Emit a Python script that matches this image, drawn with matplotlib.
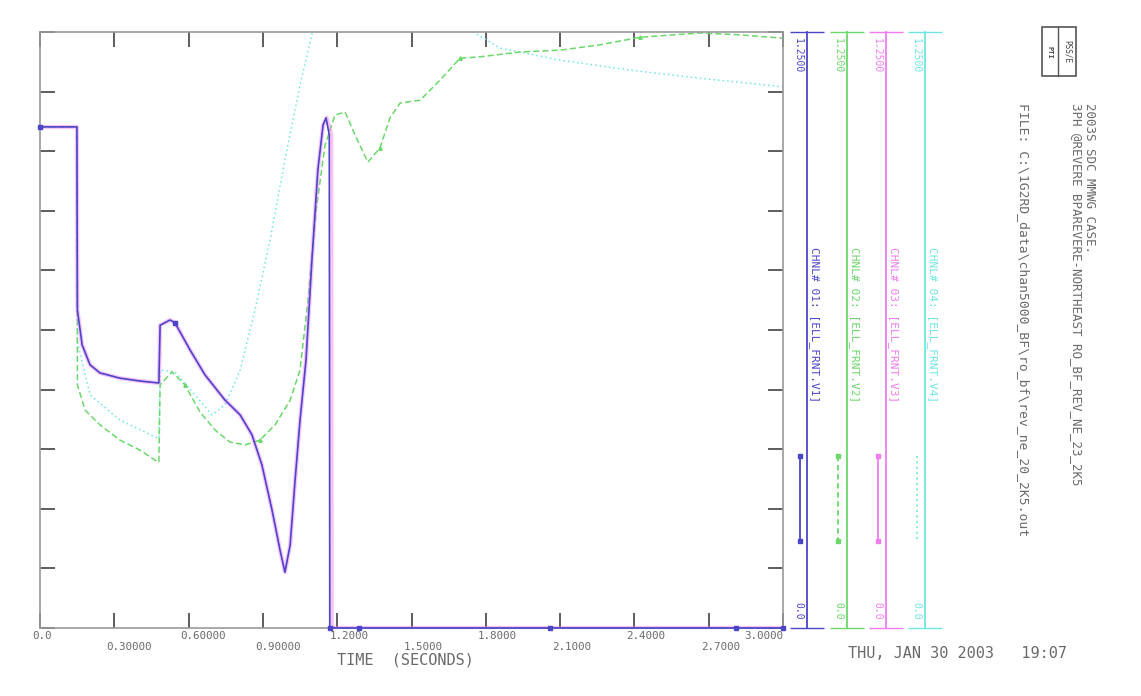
import numpy as np
import matplotlib
matplotlib.use("Agg")
import matplotlib.pyplot as plt
import matplotlib.transforms as mtransforms
from matplotlib.patches import Rectangle

plt.rcParams['font.family'] = ['DejaVu Sans Mono']

# channel 1 (blue) and channel 3 (magenta) - bus voltage, trips at ~1.17 s
t_blue = [0.0, 0.149, 0.151, 0.170, 0.202, 0.242, 0.323, 0.404, 0.476, 0.480,
          0.485, 0.525, 0.545, 0.606, 0.666, 0.747, 0.808, 0.856, 0.896, 0.937,
          0.969, 0.989, 1.010, 1.030, 1.050, 1.074, 1.098, 1.122, 1.143, 1.155,
          1.168, 1.170, 1.290, 2.060, 2.810, 3.0]
v_blue = [1.051, 1.051, 0.667, 0.594, 0.552, 0.535, 0.524, 0.518, 0.514, 0.514,
          0.635, 0.646, 0.640, 0.583, 0.531, 0.478, 0.447, 0.405, 0.342, 0.247,
          0.164, 0.117, 0.174, 0.310, 0.436, 0.562, 0.772, 0.961, 1.055, 1.070,
          1.034, 0.0, 0.0, 0.0, 0.0, 0.0]
t_mag = [0.0, 0.149, 0.151, 0.170, 0.202, 0.242, 0.323, 0.404, 0.476, 0.480,
         0.485, 0.525, 0.545, 0.606, 0.666, 0.747, 0.808, 0.856, 0.896, 0.937,
         0.969, 0.989, 1.010, 1.030, 1.050, 1.074, 1.098, 1.122, 1.143, 1.158,
         1.176, 1.178, 3.0]
v_mag = [1.051, 1.051, 0.667, 0.594, 0.552, 0.535, 0.524, 0.518, 0.514, 0.514,
         0.635, 0.646, 0.640, 0.583, 0.531, 0.478, 0.447, 0.405, 0.342, 0.247,
         0.164, 0.117, 0.174, 0.310, 0.436, 0.562, 0.772, 0.961, 1.055, 1.070,
         1.034, 0.0, 0.0]

# channel 2 (green)
t_green = [0.0, 0.149, 0.151, 0.182, 0.242, 0.323, 0.404, 0.476, 0.480, 0.485,
           0.533, 0.585, 0.646, 0.707, 0.767, 0.828, 0.888, 0.949, 1.010, 1.050,
           1.082, 1.115, 1.151, 1.191, 1.232, 1.272, 1.324, 1.373, 1.413, 1.454,
           1.535, 1.615, 1.696, 1.777, 1.938, 2.100, 2.261, 2.423, 2.665, 2.827, 3.0]
v_green = [1.051, 1.051, 0.510, 0.457, 0.426, 0.394, 0.373, 0.348, 0.348, 0.510,
           0.537, 0.510, 0.453, 0.415, 0.390, 0.384, 0.394, 0.426, 0.478, 0.541,
           0.688, 0.877, 1.013, 1.076, 1.082, 1.034, 0.977, 1.007, 1.070, 1.101,
           1.107, 1.149, 1.195, 1.198, 1.208, 1.212, 1.223, 1.239, 1.248, 1.244, 1.237]

# channel 4 (cyan)
t_cyan = [0.0, 0.149, 0.151, 0.202, 0.323, 0.476, 0.480, 0.485, 0.545, 0.626,
          0.694, 0.747, 0.808, 0.868, 0.929, 0.989, 1.050, 1.106, 1.171, 1.292,
          1.535, 1.736, 1.858, 2.100, 2.383, 2.665, 3.0]
v_cyan = [1.051, 1.051, 0.600, 0.489, 0.436, 0.398, 0.398, 0.541, 0.537, 0.489,
          0.447, 0.468, 0.541, 0.667, 0.814, 0.982, 1.139, 1.264, 1.306, 1.300,
          1.300, 1.254, 1.216, 1.191, 1.170, 1.153, 1.135]

x_ticks = [0.0, 0.3, 0.6, 0.9, 1.2, 1.5, 1.8, 2.1, 2.4, 2.7, 3.0]
x_tick_labels = ['0.0', '0.30000', '0.60000', '0.90000', '1.2000', '1.5000',
                 '1.8000', '2.1000', '2.4000', '2.7000', '3.0000']

channels = ['CHNL# 01: [ELL_FRNT.V1]', 'CHNL# 02: [ELL_FRNT.V2]',
            'CHNL# 03: [ELL_FRNT.V3]', 'CHNL# 04: [ELL_FRNT.V4]']
ch_colors = ['#4b45c8', '#6ad86a', '#f07cf0', '#6ee6e2']
ch_max = ['1.2500', '1.2500', '1.2500', '1.2500']
ch_min = ['0.0', '0.0', '0.0', '0.0']
ymin, ymax = 0.0, 1.25

W, H = 1141, 696
fig = plt.figure(figsize=(W / 100, H / 100), dpi=100)
fig.patch.set_facecolor('white')

def fx(px):
    return px / W

def fy(py):
    return 1 - py / H

grey = '#6a6a6a'
ax = fig.add_axes([fx(40), fy(628), fx(783) - fx(40), fy(32) - fy(628)])
ax.set_xlim(0, 3.0)
ax.set_ylim(ymin, ymax)
for s in ax.spines.values():
    s.set_color('#9a9a9a')
    s.set_linewidth(1.2)

ax.plot(t_mag, v_mag, color=ch_colors[2], lw=3.0, alpha=0.45, zorder=3,
        marker='s', ms=3, markevery=[0, 12, 31])
ax.plot(t_cyan, v_cyan, color=ch_colors[3], lw=1.1, ls=(0, (1, 2)), zorder=2)
ax.plot(t_green, v_green, color=ch_colors[1], lw=1.1, ls=(0, (4, 2)), zorder=2,
        marker='^', ms=2.5, markevery=[11, 16, 27, 32, 37])
ax.plot(t_blue, v_blue, color=ch_colors[0], lw=1.2, zorder=4, clip_on=False,
        marker='s', ms=3.5, markevery=[0, 12, 31, 32, 33, 34, 35])

ax.set_xticks(x_ticks)
ax.set_xticklabels([('\n' if i % 2 else '') + l for i, l in enumerate(x_tick_labels)])
ax.set_yticks(np.linspace(ymin, ymax, 11))
ax.set_yticklabels([])
ax.tick_params(axis='both', which='both', direction='in', length=11, width=1.3,
               color='#505050', top=True, right=True, labelsize=7.8,
               labelcolor=grey, pad=2)
shift = mtransforms.ScaledTranslation(-8 / 100, 0, fig.dpi_scale_trans)
labels = ax.get_xticklabels()
for i, lab in enumerate(labels):
    if i == len(labels) - 1:
        lab.set_ha('right')
    else:
        lab.set_ha('left')
        lab.set_transform(lab.get_transform() + shift)
    lab.set_va('top')

fig.text(fx(337), fy(660), 'TIME  (SECONDS)', fontsize=11, color=grey,
         ha='left', va='center')

# per-channel scale axes on the right
line_x = [807, 847, 886, 925]
key_x = [800, 838, 878, 917]
key_styles = ['-', (0, (3, 2)), '-', (0, (1, 2))]
for i in range(4):
    c = ch_colors[i]
    cax = fig.add_axes([fx(line_x[i]), fy(628), 0.0005, fy(32) - fy(628)])
    cax.set_ylim(ymin, ymax)
    cax.patch.set_visible(False)
    for side in ['top', 'right', 'bottom']:
        cax.spines[side].set_visible(False)
    cax.spines['left'].set_color(c)
    cax.spines['left'].set_linewidth(1.3)
    cax.set_xticks([])
    cax.set_yticks([ymin, ymax])
    cax.set_yticklabels([])
    cax.tick_params(axis='y', direction='inout', length=24, width=1.0, color=c)
    fig.text(fx(line_x[i] - 9), fy(38), ch_max[i], rotation=-90, fontsize=7,
             color=c, ha='center', va='top')
    fig.text(fx(line_x[i] - 9), fy(620), ch_min[i], rotation=-90, fontsize=7,
             color=c, ha='center', va='bottom')
    fig.text(fx(line_x[i] + 7), fy(247), channels[i], rotation=-90, fontsize=8,
             color=c, ha='center', va='top')
    kx = fx(key_x[i])
    fig.add_artist(plt.Line2D([kx, kx], [fy(456), fy(541)], color=c, lw=1.3,
                              ls=key_styles[i], marker='s' if i != 3 else None,
                              ms=3, transform=fig.transFigure))

# header text block
fig.text(fx(1090), fy(103), '2003S SDC MMWG CASE.', rotation=-90, fontsize=9,
         color=grey, ha='center', va='top')
fig.text(fx(1076), fy(103), '3PH @REVERE BPAREVERE-NORTHEAST RO_BF_REV_NE_23_2K5',
         rotation=-90, fontsize=9, color=grey, ha='center', va='top')
fig.text(fx(1023), fy(103),
         'FILE: C:\\1G2RD_data\\chan5000_BF\\ro_bf\\rev_ne_20_2K5.out',
         rotation=-90, fontsize=9.4, color=grey, ha='center', va='top')
fig.add_artist(Rectangle((fx(1042), fy(76)), fx(1076) - fx(1042), fy(27) - fy(76),
                         transform=fig.transFigure, fill=False, ec='#555555', lw=1.2))
fig.add_artist(plt.Line2D([fx(1058), fx(1058)], [fy(76), fy(27)], color='#555555',
                          lw=1.0, transform=fig.transFigure))
fig.text(fx(1067), fy(52), 'PSS/E', rotation=-90, fontsize=5.5, color='#444444',
         ha='center', va='center')
fig.text(fx(1050), fy(52), 'PTI', rotation=-90, fontsize=5, color='#444444',
         ha='center', va='center', fontweight='bold')

fig.text(fx(848), fy(653), 'THU, JAN 30 2003   19:07', fontsize=11, color=grey,
         ha='left', va='center')

fig.savefig('out.png', dpi=100)
